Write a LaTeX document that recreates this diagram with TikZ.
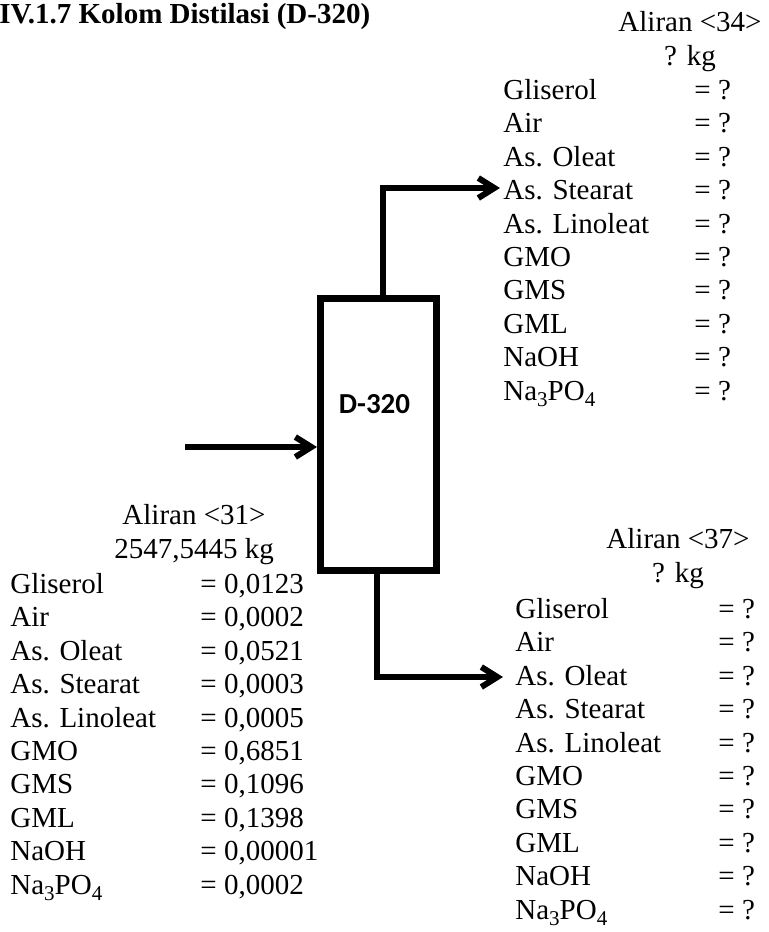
\documentclass[tikz,border=0pt]{standalone}
\usepackage{fontspec}
\setmainfont{Liberation Serif}
\newfontfamily\calibri{Carlito}
\usetikzlibrary{arrows.meta}

\newcommand{\chemsub}[1]{\raisebox{-3pt}{\fontsize{10.5}{10.5}\selectfont #1}}

\begin{document}
\begin{tikzpicture}[
  x=0.5pt, y=-0.5pt,
  every node/.style={font=\fontsize{14.5}{16.7}\selectfont, inner sep=0pt},
  head/.style={align=center, anchor=base, font=\fontsize{14.5}{17}\selectfont},
  flow/.style={-{Straight Barb[length=8pt,width=10pt]}, line width=3pt}
]
\useasboundingbox (0,0) rectangle (769,932);

% ---------- Title ----------
\node[anchor=base west, font=\fontsize{14.5}{16.7}\selectfont\bfseries] (title) at (-1,23) {IV.1.7 Kolom Distilasi (D-320)};

% ---------- Distillation column ----------
\node[draw, line width=3.5pt, minimum width=58pt, minimum height=136pt] (col) at (378.5,434.5) {};
\node[font=\fontsize{14.5}{16.7}\calibri\bfseries] (collbl) at (374.5,404.5) {D-320};

% ---------- Pipes ----------
\coordinate (in31) at (185,447);
\coordinate (up34) at (383,188);
\coordinate (tip34) at (500,188);
\coordinate (dn37) at (377,677);
\coordinate (tip37) at (503,677);

\draw[flow] (in31) -- (in31 -| col.west); % feed <31>
\draw[flow] (col.north -| up34) -- (up34) -- (tip34); % top product <34>
\draw[flow] (col.south -| dn37) -- (dn37) -- (tip37); % bottom product <37>

% ---------- Stream <31> (base = last line) ----------
\node[head] (h31) at (194,558) {Aliran <31>\\2547,5445 kg};
\node[align=left, anchor=base west] (n31) at (10,894) {Gliserol\\Air\\As. Oleat\\As. Stearat\\As. Linoleat\\GMO\\GMS\\GML\\NaOH\\Na\chemsub{3}PO\chemsub{4}};
\node[align=left, anchor=base west] (v31) at (200,894) {= 0,0123\\= 0,0002\\= 0,0521\\= 0,0003\\= 0,0005\\= 0,6851\\= 0,1096\\= 0,1398\\= 0,00001\\= 0,0002};

% ---------- Stream <34> ----------
\node[head] (h34) at (690,65) {Aliran <34>\\? kg};
\node[align=left, anchor=base west] (n34) at (503,400) {Gliserol\\Air\\As. Oleat\\As. Stearat\\As. Linoleat\\GMO\\GMS\\GML\\NaOH\\Na\chemsub{3}PO\chemsub{4}};
\node[align=left, anchor=base west] (v34) at (694,400) {= ?\\= ?\\= ?\\= ?\\= ?\\= ?\\= ?\\= ?\\= ?\\= ?};

% ---------- Stream <37> ----------
\node[head] (h37) at (678,582) {Aliran <37>\\? kg};
\node[align=left, anchor=base west] (n37) at (515,919) {Gliserol\\Air\\As. Oleat\\As. Stearat\\As. Linoleat\\GMO\\GMS\\GML\\NaOH\\Na\chemsub{3}PO\chemsub{4}};
\node[align=left, anchor=base west] (v37) at (718,919) {= ?\\= ?\\= ?\\= ?\\= ?\\= ?\\= ?\\= ?\\= ?\\= ?};

\end{tikzpicture}
\end{document}
